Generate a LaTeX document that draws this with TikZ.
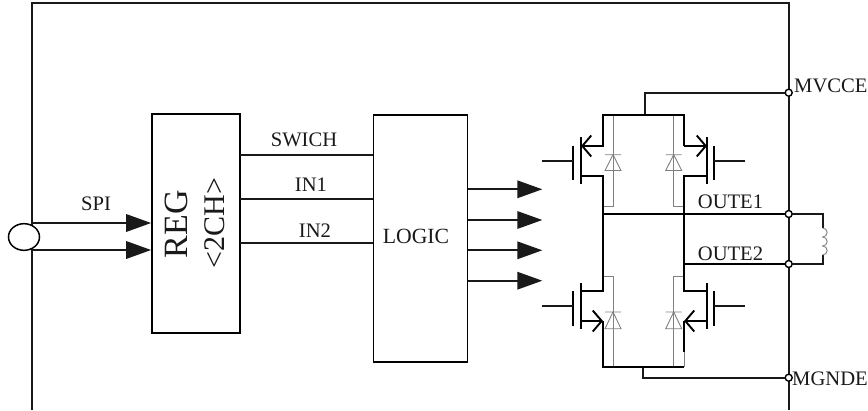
\documentclass[tikz,border=0pt]{standalone}
\usepackage{fontspec}
\setmainfont{Liberation Serif}
\usetikzlibrary{arrows.meta,calc}
\tikzset{
  x=1pt,y=-1pt,
  wire/.style={draw=black!90,line width=1.7pt},
  heavy/.style={draw=black,line width=2pt},
  thin gray/.style={draw=black!50,line width=0.9pt},
  box/.style={draw=black,line width=1.7pt,fill=white,inner sep=0pt},
  bigarrow/.style={wire,-{Triangle[length=25pt,width=17.5pt]},shorten >=0pt},
  sourcearrow/.style={heavy,-{Straight Barb[length=9pt,width=21pt,line width=1.9pt]}},
  term/.style={circle,draw=black,line width=1.4pt,fill=white,minimum size=7pt,inner sep=0pt},
  lbl/.style={font=\fontsize{20.6}{22}\selectfont,inner sep=0pt,text=black!90},
}
\begin{document}
\begin{tikzpicture}
\useasboundingbox (0,0) rectangle (868,410);
% frame
\coordinate (fbl) at (32,410);
\coordinate (ftl) at (32,3);
\coordinate (ftr) at (788.7,3);
\coordinate (fbr) at (788.7,410);
\draw[wire] (fbl) -- (ftl) -- (ftr) -- (fbr);
% boxes
\node[box,minimum width=88pt,minimum height=219pt] (reg) at (196,223.5) {};
\node[box,minimum width=94pt,minimum height=247pt] (logic) at (420.5,238.5) {};
\node[lbl,font=\fontsize{34}{36}\selectfont,rotate=90] (regt) at (176,224) {REG};
\node[lbl,font=\fontsize{30}{32}\selectfont,rotate=90] (cht) at (215,223) {<2CH>};
\node[lbl,font=\fontsize{21.7}{23}\selectfont] (lgt) at (416,236) {LOGIC};
% SPI
\node[circle,draw=black,line width=1.5pt,fill=white,minimum width=31pt,inner sep=0pt,xscale=1,yscale=.86] (spi) at (24,237) {};
\coordinate (s1) at (32,223);
\coordinate (s2) at (32,250);
\draw[bigarrow] (s1) -- (s1 -| reg.west);
\draw[bigarrow] (s2) -- (s2 -| reg.west);
\node[lbl] (spit) at (96,204) {SPI};
% reg to logic
\foreach \n/\y/\t/\tx/\ty in {a/155/SWICH/304/139.5,b/199.3/IN1/311/185,c/242.7/IN2/315/230.7}{
  \coordinate (\n) at (240,\y);
  \draw[wire] (\n) -- (\n -| logic.west);
  \node[lbl] (t\n) at (\tx,\ty) {\t};
}
% logic outputs
\foreach \n/\y in {o1/189.3,o2/220,o3/250.3,o4/280.7}{
  \coordinate (\n) at (467.5,\y);
  \coordinate (\n e) at (542.3,\y);
  \draw[bigarrow] (\n) -- (\n e);
}
% terminals
\node[term] (mv) at (788.7,92.7) {};
\node[term] (o1t) at (788.7,214) {};
\node[term] (o2t) at (788.7,264) {};
\node[term] (mg) at (788.7,377.7) {};
\node[lbl,anchor=west] (mvt) at (794,86) {MVCCE};
\node[lbl,anchor=west] (mgt) at (792,379) {MGNDE};
\node[lbl] (o1l) at (730.5,202) {OUTE1};
\node[lbl] (o2l) at (730.5,254) {OUTE2};
% key coordinates
\coordinate (tl) at (603,115); \coordinate (tr) at (684,115);
\coordinate (bl) at (603,367); \coordinate (br) at (684,367);
\coordinate (ml) at (603,214); \coordinate (mr) at (684,264);
% rails
\draw[wire] (645,115) |- (mv);
\draw[wire] (643,367) |- (mg);
\draw[heavy] (ml) -- (o1t);
\draw[heavy] (mr) -- (o2t);
% load
\draw[wire] (o1t) -- (822.7,214) -- (822.7,228);
\draw[wire] (o2t) -- (822.7,264) -- (822.7,255);
\draw[thin gray] (822.7,228) arc[start angle=90,end angle=-90,radius=4.5pt]
  arc[start angle=90,end angle=-90,radius=4.5pt]
  arc[start angle=90,end angle=-90,radius=4.5pt];
% diodes
\foreach \x/\a/\b/\c in {613/603/115/206.7,673.7/684/115/206.7}{
  \draw[thin gray] (\x,\b) -- (\x,\c) -- (\a,\c);
  \draw[thin gray,line join=miter] (\x-8,154.7) -- (\x+8,154.7) (\x,154.7) -- (\x-8,170.5) -- (\x+8,170.5) -- cycle;
}
\foreach \x/\a in {613/603,673.7/684}{
  \draw[thin gray] (\a,276) -- (\x,276) -- (\x,367);
  \draw[thin gray,line join=miter] (\x-8,312) -- (\x+8,312) (\x,312) -- (\x-8,328.7) -- (\x+8,328.7) -- cycle;
}
\draw[thin gray] (684,352) -- (br);
% bridge
\draw[heavy] (581,146) -- (603,146) -- (tl) -- (tr) -- (684,146);
\draw[sourcearrow] (603,146) -- (581,146);
\draw[sourcearrow] (684,146) -- (707,146);
\draw[heavy] (581,176) -- (603,176) -- (603,291) -- (581,291);
\draw[heavy] (707,176) -- (684,176) -- (684,291) -- (707,291);
\draw[sourcearrow] (581,321) -- (603,321);
\draw[sourcearrow] (707,321) -- (684,321);
\draw[heavy] (603,321) -- (bl) -- (br);
\draw[heavy] (684,321) -- (684,352);
% gates and channels
\foreach \xc/\xg/\xe in {581/573/542,707/714/745}{
  \draw[heavy] (\xc,137) -- (\xc,184);
  \draw[heavy] (\xg,146) -- (\xg,180);
  \draw[wire] (\xe,161) -- (\xg,161);
  \draw[heavy] (\xc,283) -- (\xc,329);
  \draw[heavy] (\xg,291) -- (\xg,326);
  \draw[wire] (\xe,306) -- (\xg,306);
}
\end{tikzpicture}
\end{document}
